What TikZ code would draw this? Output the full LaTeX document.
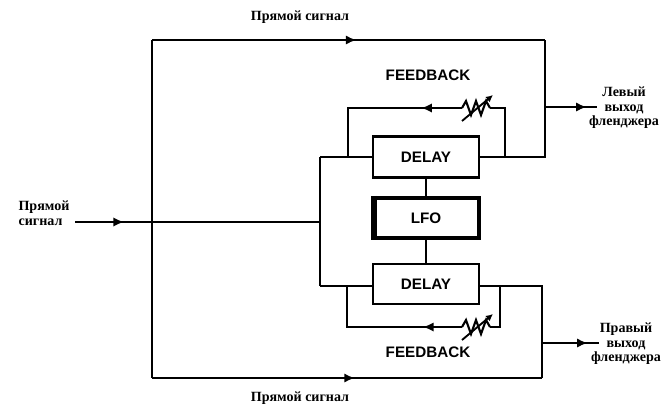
\documentclass[tikz,border=0pt]{standalone}
\usepackage{fontspec}
\setmainfont{Liberation Serif}
\setsansfont{Liberation Sans}
\usetikzlibrary{arrows.meta,calc,positioning,decorations.markings}

\begin{document}
\begin{tikzpicture}[x=0.03cm,y=-0.03cm,line width=2.3pt,
    blockbox/.style={draw,line width=2.3pt,minimum width=3.18cm,minimum height=1.25cm,
      font=\sffamily\bfseries\fontsize{13}{14}\selectfont},
    sigtext/.style={font=\bfseries\fontsize{12}{12.5}\selectfont,align=center,inner sep=1pt},
    fbtext/.style={font=\sffamily\bfseries\fontsize{13}{14}\selectfont,inner sep=1pt},
    arrowat/.style={postaction={decorate},decoration={markings,
      mark=at position #1 with {\arrow{Latex[length=9pt,width=8pt]}}}},
    pics/potmeter/.style={code={
      \draw[line width=1.8pt] (14,0) -- (10,-7) -- (5,7) -- (0,-7) -- (-5,7) -- (-10,-7) -- (-14,0);
      \draw[line width=1.6pt,-{Latex[length=6pt,width=6pt]}] (-14,13) -- (17,-13);
    }}]
  \useasboundingbox (0,0) rectangle (671,412);

  % blocks
  \node[blockbox] (udelay) at (426,157) {DELAY};
  \node[blockbox,line width=3.8pt,minimum height=1.2cm] (lfo) at (426,218) {LFO};
  \node[blockbox,minimum height=1.2cm] (ldelay) at (426,284) {DELAY};
  \draw[line width=5pt] ([xshift=3pt]lfo.north west) -- ([xshift=3pt]lfo.south west);

  % labels
  \node[sigtext,align=left] (inlbl) at (44,213) {Прямой\\сигнал};
  \node[sigtext] (toplbl) at (300,17) {Прямой сигнал};
  \node[sigtext] (botlbl) at (300,398) {Прямой сигнал};
  \node[sigtext] (loutlbl) at (624,108) {Левый\\выход\\фленджера};
  \node[sigtext] (routlbl) at (626,344) {Правый\\выход\\фленджера};
  \node[fbtext] (ufb) at (428,75) {FEEDBACK};
  \node[fbtext] (lfb) at (428,352) {FEEDBACK};

  % coordinates
  \coordinate (inL) at (75,222);
  \coordinate (bus) at (320,222);
  \coordinate (busU) at (320,157);
  \coordinate (busL) at (320,286);
  \coordinate (tl) at (152,40);
  \coordinate (tr) at (545,40);
  \coordinate (bl) at (152,378);
  \coordinate (br) at (542,378);
  \coordinate (uout) at (545,157);
  \coordinate (lout) at (542,286);
  \coordinate (uoutA) at (545,107);
  \coordinate (uoutB) at (597,107);
  \coordinate (loutA) at (542,343);
  \coordinate (loutB) at (599,343);
  \coordinate (ufbR) at (505,157);
  \coordinate (ufbL) at (348,157);
  \coordinate (lfbR) at (500,286);
  \coordinate (lfbL) at (347,286);
  \coordinate (upotR) at (490,108);
  \coordinate (upotL) at (462,108);
  \coordinate (lpotR) at (490,327);
  \coordinate (lpotL) at (462,327);

  % direct signal
  \draw[arrowat=0.2] (inL) -- (bus);
  \draw (tl) -- (bl);
  \draw[arrowat=0.52] (tl) -- (tr);
  \draw[arrowat=0.52] (bl) -- (br);
  \draw (busU) -- (busL);
  \draw (busU) -- (udelay.west);
  \draw (busL) -- (busL -| ldelay.west);
  \draw (udelay.east) -- (uout) -- (tr);
  \draw (lout -| ldelay.east) -- (lout) -- (br);
  \draw[arrowat=0.8] (uoutA) -- (uoutB);
  \draw[arrowat=0.8] (loutA) -- (loutB);

  % lfo
  \draw (lfo) -- (udelay);
  \draw (lfo) -- (ldelay);

  % feedback loops
  \draw (ufbR) |- (upotR);
  \draw[arrowat=0.25] (upotL) -| (ufbL);
  \pic at (476,108) {potmeter};
  \draw (lfbR) |- (lpotR);
  \draw[arrowat=0.25] (lpotL) -| (lfbL);
  \pic at (476,327) {potmeter};
\end{tikzpicture}
\end{document}
